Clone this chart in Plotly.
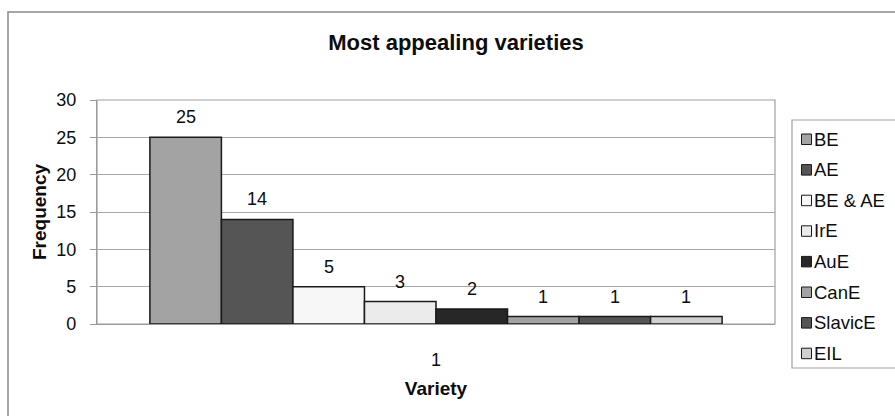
import plotly.graph_objects as go

# Survey results: most appealing English varieties
varieties = ["BE", "AE", "BE & AE", "IrE", "AuE", "CanE", "SlavicE", "EIL"]
frequency = [25, 14, 5, 3, 2, 1, 1, 1]
fills = ["#a3a3a3", "#555555", "#f7f7f7", "#ebebeb", "#272727", "#a3a3a3", "#555555", "#d0d0d0"]
y_ticks = [0, 5, 10, 15, 20, 25, 30]
category_label = "1"

W, H = 895, 416
L, R, T, B = 97, 775, 100, 324          # plot area in pixels
FONT = "Liberation Sans, Arial, sans-serif"


def px_x(p):
    return (p - L) / (R - L)


def px_y(p):
    return (B - p) / (B - T)


n = len(varieties)
bar_w = 0.1055                       # width of one bar on the [-0.5, 0.5] axis
fig = go.Figure()
for i, (name, val, col) in enumerate(zip(varieties, frequency, fills)):
    fig.add_trace(go.Bar(
        x=[0], y=[val], name=name,
        width=bar_w, offset=(i - n / 2) * bar_w,
        marker=dict(color=col, line=dict(color="#1a1a1a", width=1.5)),
        showlegend=False,
    ))
    fig.add_annotation(
        x=(i - n / 2 + 0.5) * bar_w, y=val, xref="x", yref="y",
        text=str(val), showarrow=False, yanchor="middle", yshift=20,
        font=dict(family=FONT, size=18, color="#0d0d0d"),
    )

shapes = []
# outer chart frame (left and top edges visible)
shapes.append(dict(type="rect", xref="paper", yref="paper",
                   x0=px_x(8), x1=px_x(W + 20), y0=px_y(H + 20), y1=px_y(12),
                   line=dict(color="#8a8a8a", width=1.5), layer="below"))
# plot-area frame (top and right edges)
shapes.append(dict(type="rect", xref="paper", yref="paper",
                   x0=0, x1=1, y0=0, y1=1,
                   line=dict(color="#a0a0a0", width=1.2), layer="below"))

# legend box with swatches and labels
shapes.append(dict(type="rect", xref="paper", yref="paper",
                   x0=px_x(792), x1=px_x(W + 20), y0=px_y(368), y1=px_y(120),
                   line=dict(color="#a0a0a0", width=1.2)))
for i, (name, col) in enumerate(zip(varieties, fills)):
    cy = 139 + 30.6 * i
    shapes.append(dict(type="rect", xref="paper", yref="paper",
                       x0=px_x(801.5), x1=px_x(811.5), y0=px_y(cy + 5.5), y1=px_y(cy - 5),
                       fillcolor=col, line=dict(color="#1a1a1a", width=1)))
    fig.add_annotation(x=px_x(812), y=px_y(cy), xref="paper", yref="paper",
                       text=name, showarrow=False, xanchor="left", yanchor="middle",
                       font=dict(family=FONT, size=18.5, color="#0d0d0d"))

fig.update_layout(
    width=W, height=H,
    margin=dict(l=L, r=W - R, t=T, b=H - B, autoexpand=False),
    paper_bgcolor="white", plot_bgcolor="white",
    barmode="overlay",
    showlegend=False,
    shapes=shapes,
    title=dict(text="<b>Most appealing varieties</b>", x=456 / W, xanchor="center",
               y=1 - 42 / H, yanchor="middle",
               font=dict(family=FONT, size=22, color="#0d0d0d")),
    xaxis=dict(range=[-0.5, 0.5], tickvals=[0], ticktext=[category_label],
               showgrid=False, zeroline=False, showline=True,
               linecolor="#9a9a9a", linewidth=1.2, ticks="",
               ticklabelstandoff=19,
               tickfont=dict(family=FONT, size=18, color="#0d0d0d"),
               title=dict(text="<b>Variety</b>", standoff=12,
                          font=dict(family=FONT, size=19, color="#0d0d0d"))),
    yaxis=dict(range=[0, 30], tickvals=y_ticks,
               showgrid=True, gridcolor="#a8a8a8", gridwidth=1,
               zeroline=False, showline=True, linecolor="#9a9a9a", linewidth=1.2,
               ticks="outside", ticklen=6, tickcolor="#9a9a9a",
               ticklabelstandoff=10,
               tickfont=dict(family=FONT, size=18, color="#0d0d0d"),
               title=dict(text="<b>Frequency</b>", standoff=4,
                          font=dict(family=FONT, size=19, color="#0d0d0d"))),
)

fig.write_html("out.html")
